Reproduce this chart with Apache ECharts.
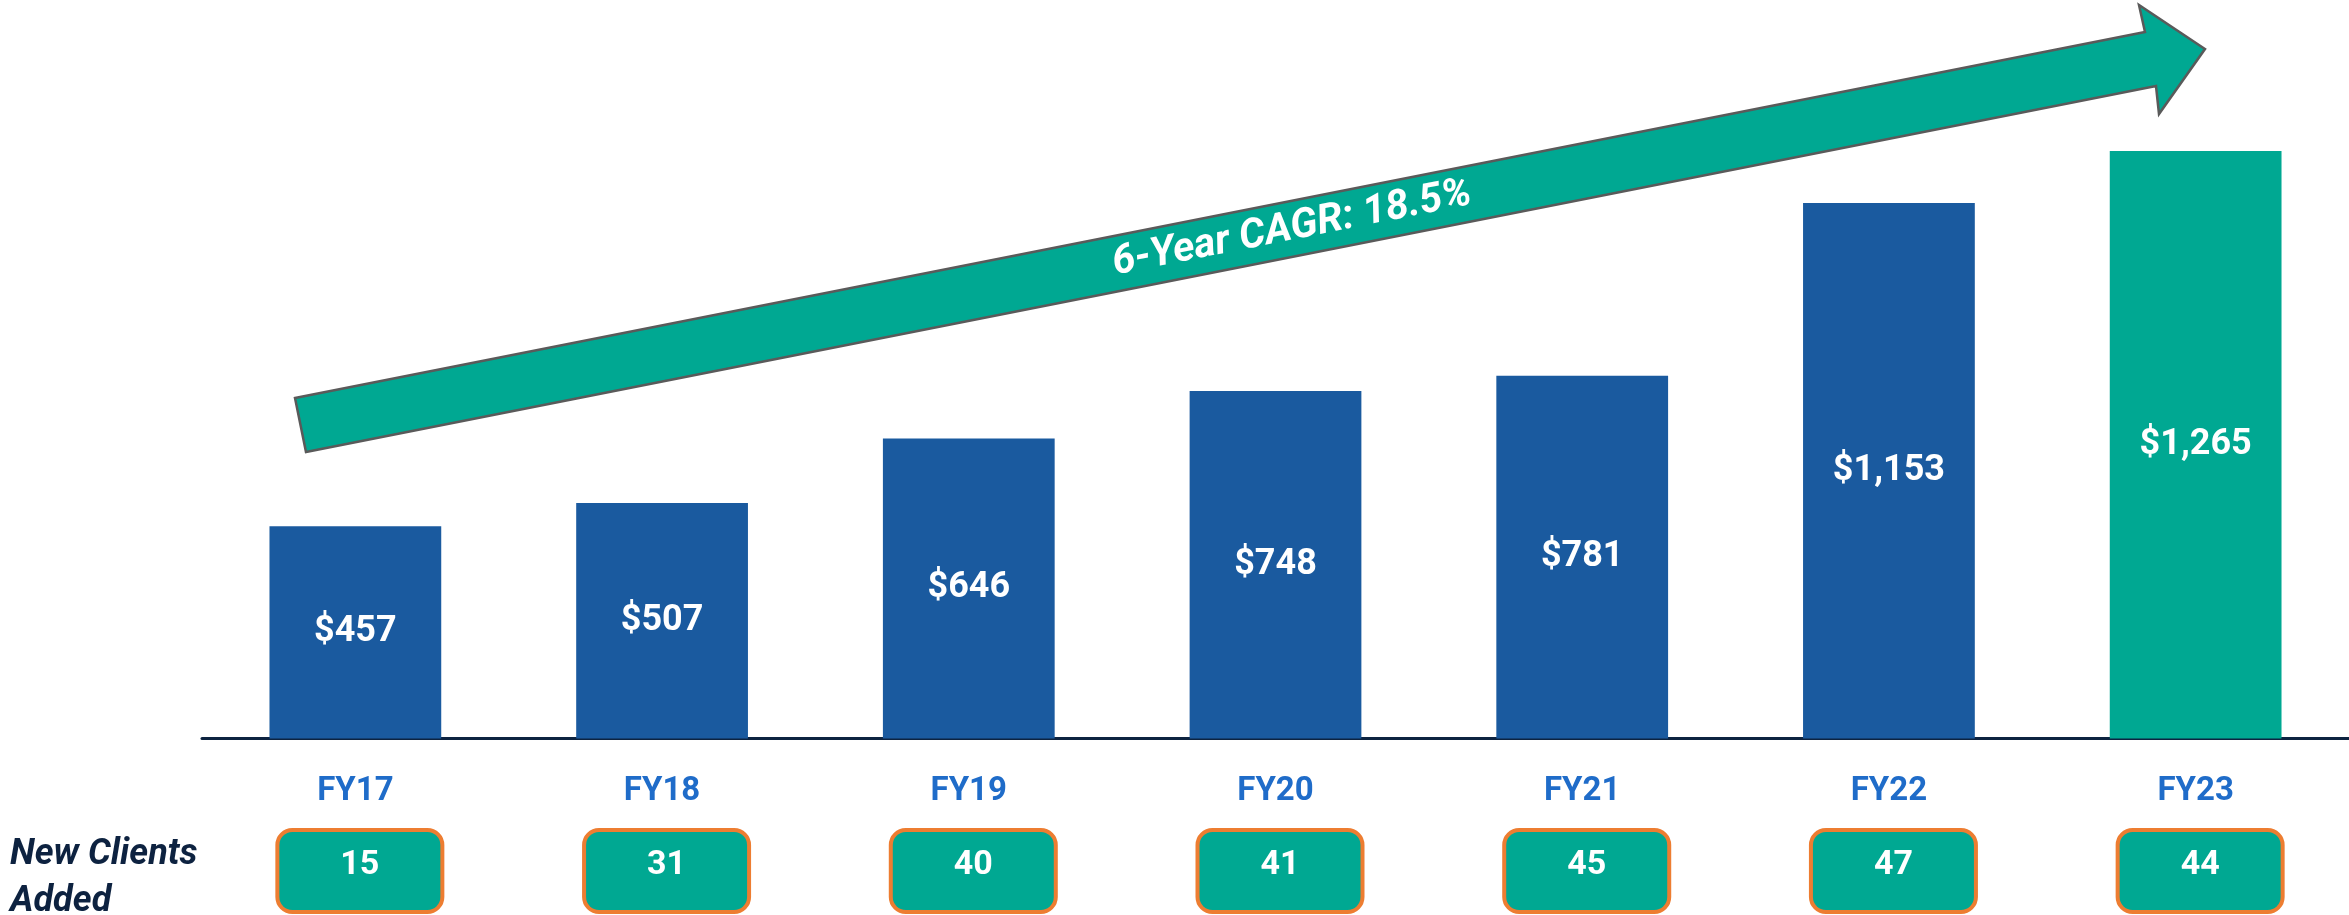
<!DOCTYPE html>
<html>
<head>
<meta charset="utf-8">
<script src="https://cdn.jsdelivr.net/npm/echarts@6/dist/echarts.min.js"></script>
<style>
html,body{margin:0;padding:0;background:#fff;}
#c{width:2349px;height:915px;}
</style>
</head>
<body>
<div id="c"></div>
<script>
const categories = ['FY17', 'FY18', 'FY19', 'FY20', 'FY21', 'FY22', 'FY23'];
const revenue = [457, 507, 646, 748, 781, 1153, 1265];
const newClients = [15, 31, 40, 41, 45, 47, 44];
const cagrLabel = '6-Year CAGR: 18.5%';
const clientsLabel = 'New Clients\nAdded';

const BLUE = '#1A5A9F';
const TEAL = '#00A892';
const FONT = 'Roboto, "Noto Sans", sans-serif';

const chart = echarts.init(document.getElementById('c'), null, {renderer: 'canvas'});

const option = {
  backgroundColor: '#ffffff',
  animation: false,
  grid: {left: 202, right: 0, top: 0, bottom: 176.5},
  xAxis: [
    {
      type: 'category',
      data: categories,
      position: 'bottom',
      axisLine: {show: true, lineStyle: {color: '#0D2340', width: 3}},
      axisTick: {show: false},
      axisLabel: {
        interval: 0, margin: 37, color: '#1F6CC9',
        fontFamily: FONT, fontWeight: 'bold', fontSize: 33, lineHeight: 33
      }
    },
    {
      type: 'category',
      data: newClients.map(String),
      position: 'bottom',
      offset: 0,
      axisLine: {show: false},
      axisTick: {show: false},
      axisLabel: {
        interval: 0, margin: 93.5,
        formatter: function (v) { return '{s| }{b|' + v + '}'; },
        rich: {
          s: {width: 9, fontSize: 10, lineHeight: 78},
          b: {
            color: '#ffffff', fontFamily: FONT, fontWeight: 'bold', fontSize: 34,
            width: 161, height: 66, lineHeight: 78, align: 'center',
            padding: [0, 0, 12, 0],
            backgroundColor: TEAL, borderColor: '#ED7D31', borderWidth: 4, borderRadius: 13
          }
        }
      }
    }
  ],
  yAxis: {type: 'value', min: 0, max: 1590, show: false, splitLine: {show: false}},
  series: [{
    type: 'bar',
    data: revenue,
    barCategoryGap: '44%',
    itemStyle: {
      color: function (p) { return p.dataIndex === revenue.length - 1 ? TEAL : BLUE; }
    },
    label: {
      show: true, position: 'inside', color: '#ffffff',
      fontFamily: FONT, fontWeight: 'bold', fontSize: 36,
      formatter: function (p) { return '$' + p.value.toLocaleString('en-US'); }
    }
  }],
  graphic: [
    {
      type: 'polygon',
      shape: {points: [[295, 398], [2145, 32], [2139, 5], [2205, 49], [2159, 114], [2156, 86], [306, 452]]},
      style: {fill: TEAL, stroke: '#5A5A5A', lineWidth: 2.5},
      z: 10
    },
    {
      type: 'text',
      x: 1292, y: 229,
      rotation: Math.atan2(366, 1850),
      style: {
        text: cagrLabel, fill: '#ffffff', align: 'center', verticalAlign: 'middle',
        font: 'italic bold 41px ' + FONT
      },
      z: 11
    },
    {
      type: 'text',
      left: 10, top: 831,
      style: {
        text: clientsLabel, fill: '#0D2240', lineHeight: 47,
        font: 'italic bold 36px ' + FONT
      }
    }
  ]
};
chart.setOption(option);
</script>
</body>
</html>
